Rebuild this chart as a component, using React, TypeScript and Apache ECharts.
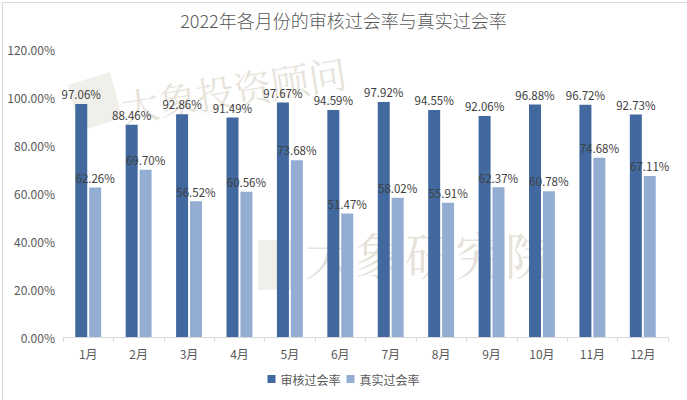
import React, { useEffect, useRef } from "react";
import * as echarts from "echarts";

const months = ["1月", "2月", "3月", "4月", "5月", "6月", "7月", "8月", "9月", "10月", "11月", "12月"];
const auditRate = [97.06, 88.46, 92.86, 91.49, 97.67, 94.59, 97.92, 94.55, 92.06, 96.88, 96.72, 92.73];
const realRate = [62.26, 69.7, 56.52, 60.56, 73.68, 51.47, 58.02, 55.91, 62.37, 60.78, 74.68, 67.11];
const seriesNames = ["审核过会率", "真实过会率"];
const titleText = "2022年各月份的审核过会率与真实过会率";

const FONT = "'Noto Sans CJK SC', 'Noto Sans', sans-serif";
const WM_FONT = "'Noto Serif CJK SC', 'Noto Sans CJK SC', serif";
const WM_FILL = "rgba(190,178,158,0.38)";

export default function App() {
  const ref = useRef<HTMLDivElement>(null);
  useEffect(() => {
    const chart = echarts.init(ref.current!, null, { renderer: "svg" });
    const label = {
      show: true,
      position: "top",
      distance: 4,
      color: "#404040",
      fontSize: 11.5,
      fontFamily: FONT,
      formatter: (p: any) => p.value.toFixed(2) + "%",
    };
    chart.setOption({
      animation: false,
      backgroundColor: "#ffffff",
      title: {
        text: titleText,
        left: "center",
        top: 6,
        textStyle: { fontSize: 18, fontWeight: 300, color: "#595959", fontFamily: FONT },
      },
      legend: {
        bottom: 10,
        left: "center",
        itemWidth: 8,
        itemHeight: 8,
        itemGap: 6,
        icon: "rect",
        textStyle: { fontSize: 12, color: "#595959", fontFamily: FONT },
        data: seriesNames,
      },
      grid: { left: 63, right: 19, top: 49, bottom: 63 },
      xAxis: {
        type: "category",
        data: months,
        axisLine: { lineStyle: { color: "#d9d9d9" } },
        axisTick: { show: true, length: 5, lineStyle: { color: "#d9d9d9" } },
        axisLabel: { color: "#595959", fontSize: 12, fontFamily: FONT, margin: 10 },
      },
      yAxis: {
        type: "value",
        min: 0,
        max: 120,
        interval: 20,
        splitLine: { show: false },
        axisLine: { show: false },
        axisTick: { show: false },
        axisLabel: {
          color: "#595959",
          fontSize: 12,
          fontFamily: FONT,
          margin: 8,
          formatter: (v: number) => v.toFixed(2) + "%",
        },
      },
      graphic: [
        {
          type: "group",
          z: -10,
          silent: true,
          children: [
            {
              type: "polygon",
              shape: { points: [[68, 85], [110, 72], [122, 118], [80, 131]] },
              style: { fill: "rgba(200,190,170,0.25)" },
            },
            {
              type: "text",
              x: 118,
              y: 88,
              rotation: 0.16,
              style: { text: "大象投资顾问", fontSize: 38, fontFamily: WM_FONT, fill: WM_FILL },
            },
            {
              type: "polygon",
              shape: { points: [[258, 240], [302, 240], [302, 290], [258, 290]] },
              style: { fill: "rgba(200,190,170,0.25)" },
            },
            {
              type: "text",
              x: 305,
              y: 228,
              style: { text: "大象研究院", fontSize: 50, fontFamily: WM_FONT, fill: WM_FILL },
            },
          ],
        },
        {
          type: "rect",
          left: 0,
          top: 0,
          silent: true,
          shape: { width: 686, height: 399 },
          style: { fill: "none", stroke: "#d9d9d9", lineWidth: 1 },
        },
      ],
      series: [
        {
          name: seriesNames[0],
          type: "bar",
          data: auditRate,
          barWidth: 12,
          barGap: "16%",
          itemStyle: { color: "#41699f" },
          label,
        },
        {
          name: seriesNames[1],
          type: "bar",
          data: realRate,
          barWidth: 12,
          itemStyle: { color: "#93add3" },
          label,
        },
      ],
    });
    return () => chart.dispose();
  }, []);
  return <div ref={ref} style={{ width: 687, height: 400, position: "absolute", left: 0, top: 0 }} />;
}
